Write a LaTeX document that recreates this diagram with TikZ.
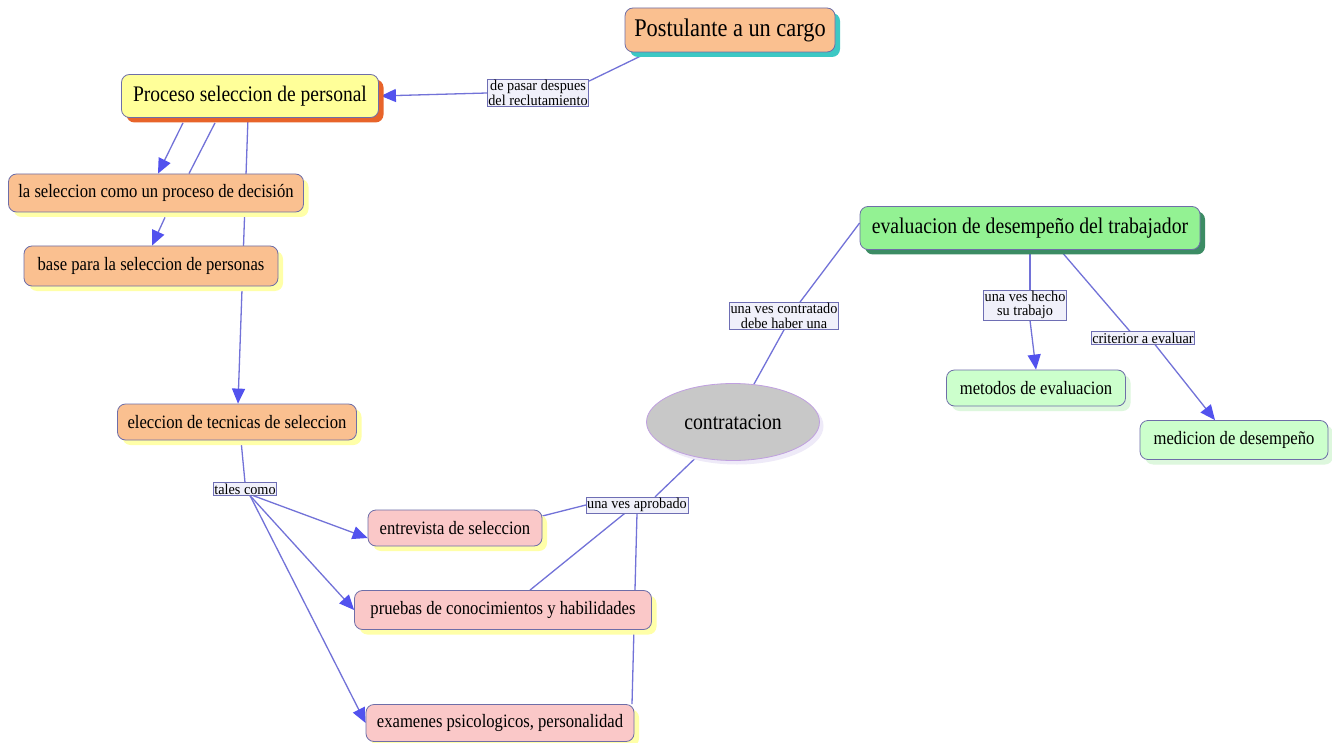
\documentclass[tikz,border=0pt]{standalone}
\usepackage{fontspec}
\setmainfont[FakeStretch=0.88]{Liberation Serif}
\newfontfamily\lblfont[FakeStretch=0.95]{Liberation Serif}
\usetikzlibrary{arrows.meta,shadows,backgrounds,shapes.geometric}
\pgfdeclarelayer{bottom}
\pgfsetlayers{bottom,background,main}
\definecolor{nborder}{HTML}{6E6EA8}
\definecolor{linec}{HTML}{7272D8}
\definecolor{arrc}{HTML}{5252EE}
\definecolor{lblfill}{HTML}{F0F0FA}
\definecolor{lblborder}{HTML}{6E6EB4}
\definecolor{peach}{HTML}{FAC090}
\definecolor{tealc}{HTML}{3CC8C4}
\definecolor{lemon}{HTML}{FFFF99}
\definecolor{redor}{HTML}{E8642A}
\definecolor{paleyel}{HTML}{FFFFA8}
\definecolor{pinkf}{HTML}{FAC8C8}
\definecolor{greenf}{HTML}{93F293}
\definecolor{darkgr}{HTML}{3C8C64}
\definecolor{palegr}{HTML}{CCFFCC}
\definecolor{palegrsh}{HTML}{DDF7DD}
\definecolor{grayf}{HTML}{C8C8C8}
\definecolor{lavb}{HTML}{C0A0E0}
\definecolor{lavsh}{HTML}{EEEAF8}
\tikzset{
  box/.style={draw=nborder, line width=0.8pt, rounded corners=8pt, align=center, inner xsep=4pt},
  sh/.style={drop shadow={shadow xshift=5pt, shadow yshift=-5pt, fill=#1, opacity=1}},
  nfont/.style={font=\fontsize{18.9}{20}\selectfont},
  orangebox/.style={box, nfont, fill=peach, sh=paleyel, minimum height=38pt},
  pinkbox/.style={box, nfont, fill=pinkf, sh=paleyel, minimum height=37pt},
  lgreenbox/.style={box, nfont, fill=palegr, sh=palegrsh, minimum height=37pt},
  lbl/.style={draw=lblborder, fill=lblfill, line width=0.6pt, inner sep=1pt, align=center,
    font=\lblfont\fontsize{15}{14.6}\selectfont},
  conn/.style={draw=linec, line width=1.3pt},
  arr/.style={conn, -{Triangle[length=15pt,width=13pt,color=arrc,fill=arrc]}},
}
\begin{document}
\begin{tikzpicture}[x=1pt,y=-1pt]
\useasboundingbox (0,0) rectangle (1332,743);
\begin{pgfonlayer}{bottom}
\fill[white] (0,0) rectangle (1332,743);
\end{pgfonlayer}

% nodes
\node[box, fill=peach, sh=tealc, font=\fontsize{25.4}{27}\selectfont, minimum width=210pt, minimum height=44pt] (post) at (730,30) {Postulante a un cargo};
\node[box, fill=lemon, sh=redor, font=\fontsize{22.2}{24}\selectfont, minimum width=257pt, minimum height=43pt] (proc) at (250,96) {Proceso seleccion de personal};
\node[orangebox, minimum width=295pt] (sel) at (156,193) {la seleccion como un proceso de decisión};
\node[orangebox, minimum width=254pt, minimum height=40pt] (base) at (151,266) {base para la seleccion de personas};
\node[orangebox, minimum width=239pt, minimum height=36pt] (elec) at (237,422) {eleccion de tecnicas de seleccion};
\node[pinkbox, minimum width=174pt, minimum height=36pt] (ent) at (455,528) {entrevista de seleccion};
\node[pinkbox, minimum width=297pt, minimum height=39pt] (pru) at (503,610) {pruebas de conocimientos y habilidades};
\node[pinkbox, minimum width=268pt, minimum height=37pt] (exa) at (500,723) {examenes psicologicos, personalidad};
\node[ellipse, draw=lavb, line width=0.8pt, fill=grayf, drop shadow={shadow xshift=4pt, shadow yshift=-4pt, fill=lavsh, opacity=1},
  font=\fontsize{22.4}{24}\selectfont, minimum width=173pt, minimum height=77pt, inner sep=0pt] (ct) at (733,422) {contratacion};
\node[box, fill=greenf, sh=darkgr, font=\fontsize{22.4}{24}\selectfont, minimum width=340pt, minimum height=43pt] (ev) at (1030,228) {evaluacion de desempeño del trabajador};
\node[lgreenbox, minimum width=179pt, minimum height=36pt] (me) at (1036,388) {metodos de evaluacion};
\node[lgreenbox, minimum width=188pt, minimum height=39pt] (md) at (1234,440) {medicion de desempeño};

% labels
\node[lbl] (l1) at (538,93) {de pasar despues\\del reclutamiento};
\node[lbl] (tc) at (245,489) {tales como};
\node[lbl] (ap) at (637,505) {una ves aprobado};
\node[lbl] (lc) at (784,316) {una ves contratado\\debe haber una};
\node[lbl] (hc) at (1025,305) {una ves hecho\\su trabajo};
\node[lbl] (cr) at (1143,338) {criterior a evaluar};

% connectors
\begin{pgfonlayer}{background}
\draw[conn] ([xshift=-90pt,yshift=-4pt]post.south) -- ([yshift=-2pt]l1.north east);
\draw[arr, shorten >=2pt] (l1.west) -- (proc.east);
\draw[arr] ([xshift=-67pt,yshift=-5pt]proc.south) -- ([xshift=2pt]sel.north);
\draw[conn] ([xshift=-35pt,yshift=-5pt]proc.south) -- ([xshift=33pt]sel.north);
\draw[arr] ([xshift=-2pt]proc.south) -- ([xshift=1pt]elec.north);
\draw[arr] ([xshift=9pt,yshift=-5pt]sel.south) -- ([xshift=1pt]base.north);
\draw[conn] ([xshift=4pt]elec.south) -- (tc.north);
\draw[arr] ([xshift=8pt]tc.south) -- ([yshift=-10pt]ent.west);
\draw[arr] ([xshift=5pt]tc.south) -- (pru.west);
\draw[arr] ([xshift=5pt]tc.south) -- (exa.west);
\draw[conn] ([yshift=12pt]ent.east) -- (ap.west);
\draw[conn] ([xshift=27pt]pru.north) -- ([xshift=-12pt]ap.south);
\draw[conn] ([xshift=132pt]exa.north) -- (ap.south);
\draw[conn] ([xshift=18pt]ap.north) -- (ct);
\draw[conn] (ct) -- (lc.south);
\draw[conn] ([xshift=16pt]lc.north) -- ([yshift=5pt]ev.west);
\draw[conn] (ev.south) -- ([xshift=5pt]hc.north);
\draw[arr] ([xshift=5pt]hc.south) -- (me.north);
\draw[conn] ([xshift=30pt]ev.south) -- ([xshift=-13pt]cr.north);
\draw[arr] ([xshift=12pt]cr.south) -- ([xshift=-19pt]md.north);
\end{pgfonlayer}
\end{tikzpicture}
\end{document}
